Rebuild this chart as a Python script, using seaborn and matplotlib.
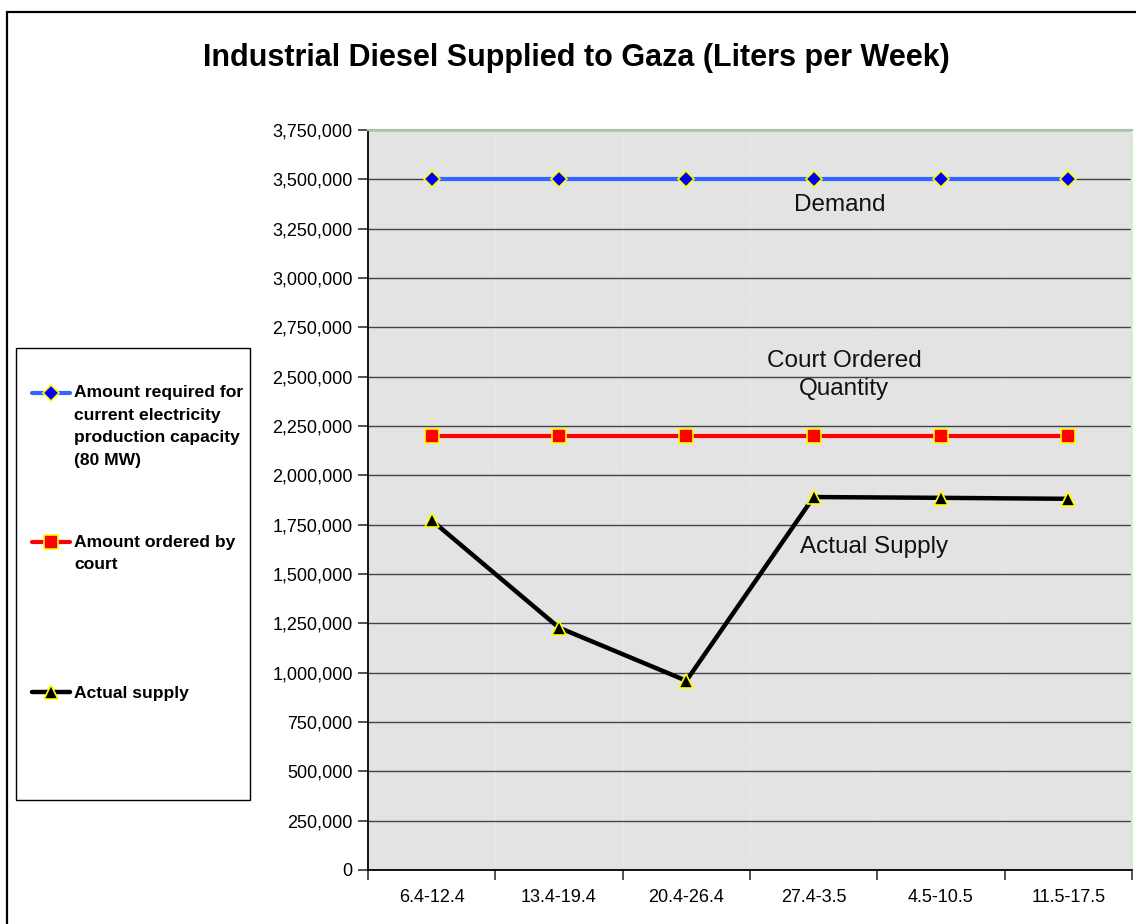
import matplotlib
matplotlib.use("Agg")
import matplotlib.pyplot as plt
import matplotlib.patches as mpatches
from matplotlib.ticker import FuncFormatter, FixedLocator
import seaborn as sns
import pandas as pd

# ---- data ----
weeks = ["6.4-12.4", "13.4-19.4", "20.4-26.4", "27.4-3.5", "4.5-10.5", "11.5-17.5"]
required = [3500000, 3500000, 3500000, 3500000, 3500000, 3500000]
court = [2200000, 2200000, 2200000, 2200000, 2200000, 2200000]
actual = [1772000, 1228000, 959000, 1890000, 1886000, 1881000]

label_required = "Amount required for\ncurrent electricity\nproduction capacity\n(80 MW)"
label_court = "Amount ordered by\ncourt"
label_actual = "Actual supply"
title = "Industrial Diesel Supplied to Gaza (Liters per Week)"
yticks = [0, 250000, 500000, 750000, 1000000, 1250000, 1500000, 1750000, 2000000,
          2250000, 2500000, 2750000, 3000000, 3250000, 3500000, 3750000]

sns.set_style("white")
plt.rcParams['font.family'] = ['Liberation Sans', 'DejaVu Sans']
plt.rcParams['text.color'] = 'black'
plt.rcParams['xtick.color'] = 'black'
plt.rcParams['ytick.color'] = 'black'

W, H = 1136, 924
fig = plt.figure(figsize=(W / 100, H / 100), dpi=100)
ax = fig.add_axes([368 / W, 1 - 870 / H, (1132 - 368) / W, (870 - 130) / H])
ax.set_facecolor("#e3e3e3")

df = pd.DataFrame({"week": weeks, "required": required, "court": court, "actual": actual})

sns.lineplot(data=df, x="week", y="required", ax=ax, sort=False, color="#3366FF", lw=3,
             marker="D", markersize=8.5, markerfacecolor="#0000FF", markeredgecolor="#FFFF00",
             markeredgewidth=1.2, label=label_required, zorder=5)
sns.lineplot(data=df, x="week", y="court", ax=ax, sort=False, color="#FF0000", lw=3,
             marker="s", markersize=10, markerfacecolor="#FF0000", markeredgecolor="#FFFF00",
             markeredgewidth=1.2, label=label_court, zorder=5)
sns.lineplot(data=df, x="week", y="actual", ax=ax, sort=False, color="#000000", lw=3.2,
             marker="^", markersize=10.5, markerfacecolor="#000000", markeredgecolor="#FFFF00",
             markeredgewidth=1.2, label=label_actual, zorder=5)

handles, labels = ax.get_legend_handles_labels()
ax.get_legend().remove()

ax.set_xlim(-0.5, len(weeks) - 0.5)
ax.set_ylim(0, 3750000)
ax.set_yticks(yticks)
ax.yaxis.set_major_formatter(FuncFormatter(lambda v, p: f"{int(v):,}"))
ax.set_xticks(range(len(weeks)))
ax.set_xticklabels(weeks)
ax.xaxis.set_minor_locator(FixedLocator([i - 0.5 for i in range(len(weeks) + 1)]))
ax.set_xlabel("")
ax.set_ylabel("")

ax.tick_params(axis="y", which="major", direction="out", length=7, width=1.2,
               color="#333333", labelcolor="black", labelsize=13, pad=4, left=True)
ax.tick_params(axis="x", which="major", length=0, labelsize=13, labelcolor="black", pad=14)
ax.tick_params(axis="x", which="minor", direction="out", length=7, width=1.2,
               color="#333333", bottom=True)

ax.grid(axis="y", color="#444444", lw=1.0, zorder=1)
ax.grid(axis="x", which="minor", color="#f2f2f2", lw=0.8, ls=":", zorder=1)
ax.set_axisbelow(True)
for s in ["left", "bottom"]:
    ax.spines[s].set_color("#000000")
    ax.spines[s].set_linewidth(1.3)
ax.spines["top"].set_color("#a8c4a8")
ax.spines["top"].set_linewidth(1.6)
ax.spines["right"].set_color("#d0f0d0")
ax.spines["right"].set_linewidth(1.6)

# annotations
ax.text(3.207, 3370000, "Demand", ha="center", va="center", fontsize=17.5, color="#111111")
ax.text(3.24, 2508000, "Court Ordered\nQuantity", ha="center", va="center", fontsize=17.5,
        color="#111111", linespacing=1.4)
ax.text(3.474, 1637000, "Actual Supply", ha="center", va="center", fontsize=17.5, color="#111111")

# title
fig.text(576 / W, 1 - 58 / H, title, ha="center", va="center", fontsize=22, fontweight="bold")

# legend frame
fig.add_artist(mpatches.Rectangle((16 / W, 1 - 800 / H), (250 - 16) / W, (800 - 348) / H,
                                  transform=fig.transFigure, fill=False, ec="black", lw=1.0))
# outer border
fig.add_artist(mpatches.Rectangle((7 / W, -0.1), 1.2, 1 - 12 / H + 0.1,
                                  transform=fig.transFigure, fill=False, ec="black", lw=1.6))

# legend entries (one per entry so the handle sits on the first label line)
handle_y = [393, 542, 693]
for h, lab, yy in zip(handles, labels, handle_y):
    n = lab.count("\n")
    padded = "\n" * n + lab
    leg = fig.legend(handles=[h], labels=[padded], loc="center left",
                     bbox_to_anchor=(32 / W, 1 - yy / H), bbox_transform=fig.transFigure,
                     frameon=False, borderpad=0, borderaxespad=0, handlelength=2.15,
                     handletextpad=0.25, prop={"weight": "bold", "size": 12.6})
    for t in leg.get_texts():
        t.set_linespacing(1.62)

fig.savefig("out.png", dpi=100)
